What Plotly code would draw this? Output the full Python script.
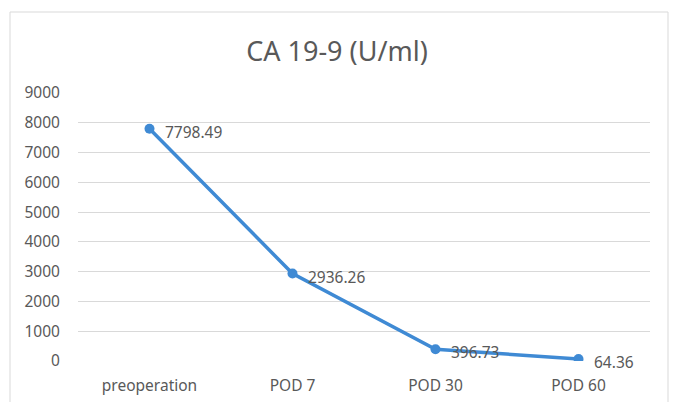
import plotly.graph_objects as go

categories = ["preoperation", "POD 7", "POD 30", "POD 60"]
values = [7798.49, 2936.26, 396.73, 64.36]
labels = ["7798.49", "2936.26", "396.73", "64.36"]
y_ticks = [0, 1000, 2000, 3000, 4000, 5000, 6000, 7000, 8000, 9000]

W, H = 674, 402
L, R, T, B = 78, 24, 93, 41
pw, ph = W - L - R, H - T - B

line_color = "#3F8AD4"
text_color = "#595959"
font_family = "Noto Sans, Open Sans, sans-serif"

fig = go.Figure()
fig.add_trace(go.Scatter(
    x=categories, y=values, mode="lines+markers",
    line=dict(color=line_color, width=3.5),
    marker=dict(color=line_color, size=10),
    hoverinfo="skip", showlegend=False,
))

for c, v, t in zip(categories, values, labels):
    fig.add_annotation(x=c, y=v, text=t, showarrow=False, xanchor="left",
                       yanchor="middle", xshift=13, yshift=-3,
                       font=dict(size=15.5, color=text_color, family=font_family))

# chart border
bx0, bx1, by0 = 10, 668, 12
fig.add_shape(type="rect", xref="paper", yref="paper",
              x0=(bx0 - L) / pw, x1=(bx1 - L) / pw,
              y0=-0.3, y1=(H - B - by0) / ph,
              line=dict(color="#D9D9D9", width=1), fillcolor="rgba(0,0,0,0)",
              layer="below")

fig.update_layout(
    width=W, height=H,
    margin=dict(l=L, r=R, t=T, b=B, autoexpand=False),
    paper_bgcolor="white", plot_bgcolor="white",
    title=dict(text="CA 19-9 (U/ml)", x=0.5, xanchor="center",
               y=1 - 52 / H, yanchor="middle", yref="container",
               font=dict(size=27, color=text_color, family=font_family)),
    font=dict(family=font_family, color=text_color, size=15.5),
    xaxis=dict(showgrid=False, zeroline=False, showline=False, automargin=False,
               ticks="outside", ticklen=10, tickcolor="rgba(0,0,0,0)",
               tickfont=dict(size=15.5, color=text_color),
               range=[-0.5, 3.5]),
    yaxis=dict(range=[0, 9000], tickvals=y_ticks, showgrid=True, automargin=False,
               gridcolor="#D9D9D9", gridwidth=1, zeroline=False, showline=False,
               ticks="outside", ticklen=14, tickcolor="rgba(0,0,0,0)",
               tickfont=dict(size=15.5, color=text_color)),
)

fig.write_html("out.html", config={"displayModeBar": False},
               post_script="document.body.style.margin='0';document.body.style.overflow='hidden';")
